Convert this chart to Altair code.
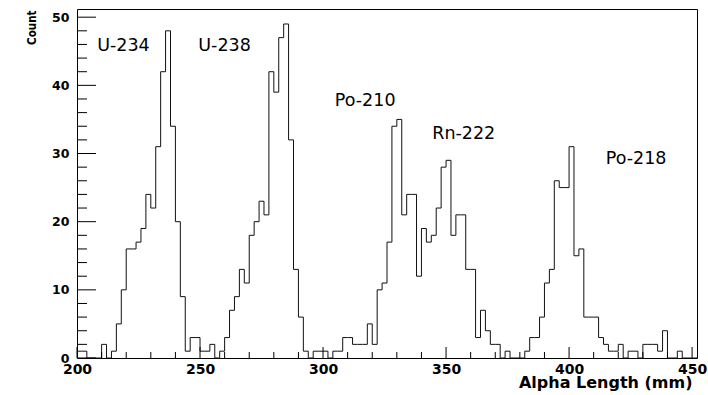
import altair as alt
import pandas as pd

# Alpha-track length histogram: 2 mm bins from 200 mm to 452 mm
bin_width = 2
x_min, x_max = 200, 452
counts = [
    1, 1, 0, 0, 0, 2, 0, 1, 5, 10,          # 200-218
    16, 16, 17, 19, 24, 22, 31, 42, 48, 34,  # 220-238
    20, 9, 1, 3, 3, 1, 1, 2, 0, 1,           # 240-258
    3, 7, 9, 13, 11, 18, 20, 23, 21, 42,     # 260-278
    39, 47, 49, 32, 13, 6, 1, 0, 1, 1,       # 280-298
    1, 0, 1, 1, 3, 3, 2, 2, 2, 5,            # 300-318
    2, 10, 11, 17, 34, 35, 21, 24, 24, 12,   # 320-338
    19, 17, 18, 22, 28, 29, 18, 21, 21, 13,  # 340-358
    13, 3, 7, 4, 2, 2, 0, 1, 0, 0,           # 360-378
    0, 1, 3, 3, 6, 11, 13, 26, 25, 25,       # 380-398
    31, 15, 16, 6, 6, 6, 3, 2, 1, 1,         # 400-418
    2, 0, 1, 1, 0, 2, 2, 2, 1, 4,            # 420-438
    0, 0, 1, 0, 0, 0,                        # 440-450
]
bin_edges = [x_min + bin_width * i for i in range(len(counts))]

# Peak annotations and where their text starts (mm, counts)
isotopes = ["U-234", "U-238", "Po-210", "Rn-222", "Po-218"]
isotope_x = [208.2, 249.3, 304.8, 344.4, 414.9]
isotope_y = [45.1, 45.1, 36.9, 32.1, 28.5]

x_major = [200, 250, 300, 350, 400, 450]
x_minor = [v for v in range(200, 451, 10) if v % 50]
y_major = [0, 10, 20, 30, 40, 50]
y_minor = [v for v in range(0, 51, 2) if v % 10]

W, H = 620, 349

hist = pd.DataFrame({
    "length": bin_edges + [x_max],
    "count": counts + [counts[-1]],
})

x_scale = alt.Scale(domain=[x_min, x_max], nice=False, zero=False)
y_scale = alt.Scale(domain=[0, 51.2], nice=False, zero=True)

bold = "DejaVu Sans"

# One axis definition per channel, shared by every layer so they merge cleanly
x_axis = alt.Axis(
    values=x_major, format="d", title="Alpha Length (mm)",
    ticks=False, tickSize=0, domain=False, grid=False,
    labelFont=bold, labelFontWeight="bold", labelFontSize=14,
    labelColor="black", labelPadding=4, labelFlush=False,
    titleFont=bold, titleFontWeight="bold", titleFontSize=16,
    titleColor="black", titleX=615, titleY=29,
    titleAlign="right", titleBaseline="alphabetic",
)
y_axis = alt.Axis(
    values=y_major, format="d", title="Count",
    ticks=False, tickSize=0, domain=False, grid=False,
    labelFont=bold, labelFontWeight="bold", labelFontSize=12.5,
    labelColor="black", labelPadding=8,
    titleFont="Liberation Sans Narrow, DejaVu Sans Condensed, Liberation Sans",
    titleFontWeight="bold", titleFontSize=11.5, titleColor="black",
    titleAngle=270, titleX=-42, titleY=1,
    titleAlign="right", titleBaseline="alphabetic",
)

X = lambda: alt.X("length:Q", scale=x_scale, axis=x_axis, title="Alpha Length (mm)")
Y = lambda: alt.Y("count:Q", scale=y_scale, axis=y_axis, title="Count")

steps = alt.Chart(hist).mark_line(
    interpolate="step-after", color="#111111", strokeWidth=1
).encode(x=X(), y=Y())


def x_ticks(values, length):
    return alt.Chart(pd.DataFrame({"length": values})).mark_rule(
        color="black", strokeWidth=1
    ).encode(
        x=X(),
        y=alt.value(H),
        y2=alt.value(H - length),
    )


def y_ticks(values, length):
    return alt.Chart(pd.DataFrame({"count": values})).mark_rule(
        color="black", strokeWidth=1
    ).encode(
        y=Y(),
        x=alt.value(0),
        x2=alt.value(length),
    )


labels = alt.Chart(pd.DataFrame({
    "isotope": isotopes, "length": isotope_x, "count": isotope_y,
})).mark_text(
    align="left", baseline="alphabetic", font="DejaVu Sans",
    fontSize=17.5, color="black",
).encode(
    x=X(),
    y=Y(),
    text="isotope:N",
)

chart = alt.layer(
    steps,
    x_ticks(x_major, 11), x_ticks(x_minor, 6),
    y_ticks(y_major, 19), y_ticks(y_minor, 10),
    labels,
).properties(
    width=W, height=H,
    padding={"left": 77, "top": 9, "right": 11, "bottom": 37},
    autosize=alt.AutoSizeParams(type="none"),
    background="white",
).configure_view(
    stroke="black", strokeWidth=1
)

chart.save("out.html", embed_options={"renderer": "svg", "actions": False})
